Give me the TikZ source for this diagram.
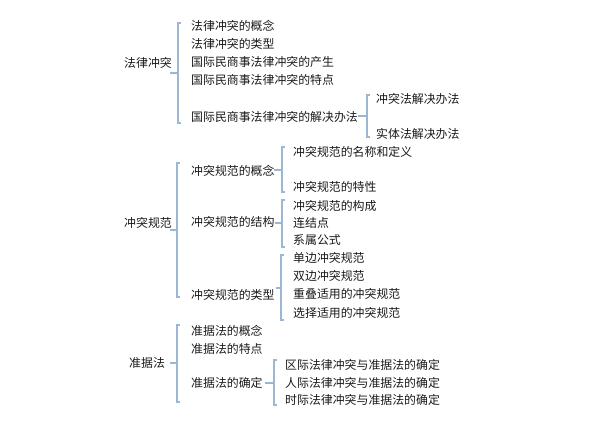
\documentclass[tikz,border=0pt]{standalone}
\usepackage{fontspec}
\newfontfamily\cjk{Noto Sans CJK SC}
\definecolor{brc}{RGB}{155,183,212}
\definecolor{txc}{RGB}{25,25,25}
\tikzset{
  lbl/.style={anchor=west,inner sep=0pt,font=\cjk\fontsize{11.9}{12}\selectfont,text=txc},
  br/.style={draw=brc,line width=1.2pt},
}
\begin{document}
\begin{tikzpicture}[x=1pt,y=-1pt]
\useasboundingbox (0,0) rectangle (593,429);
% section 1
\node[lbl] (r1) at (124,63) {法律冲突};
\node[lbl] (a1) at (191,26) {法律冲突的概念};
\node[lbl] (a2) at (191,44) {法律冲突的类型};
\node[lbl] (a3) at (191,62) {国际民商事法律冲突的产生};
\node[lbl] (a4) at (191,80) {国际民商事法律冲突的特点};
\node[lbl] (a5) at (191,117) {国际民商事法律冲突的解决办法};
\node[lbl] (a51) at (376,99) {冲突法解决办法};
\node[lbl] (a52) at (376,134) {实体法解决办法};
\coordinate (B1) at (178,73);
\draw[br] (181,23) -- (178,23) -- (178,123) -- (181,123);
\draw[br] (B1) -- (170,73);
\coordinate (B1a) at (367,116);
\draw[br] (370,95) -- (367,95) -- (367,137) -- (370,137);
\draw[br] (B1a) -- (358,116);
% section 2
\node[lbl] (r2) at (124,223) {冲突规范};
\node[lbl] (b1) at (191,171) {冲突规范的概念};
\node[lbl] (b2) at (191,222) {冲突规范的结构};
\node[lbl] (b3) at (191,295) {冲突规范的类型};
\node[lbl] (b11) at (293,152) {冲突规范的名称和定义};
\node[lbl] (b12) at (293,187) {冲突规范的特性};
\node[lbl] (b21) at (293,206) {冲突规范的构成};
\node[lbl] (b22) at (293,223) {连结点};
\node[lbl] (b23) at (293,240) {系属公式};
\node[lbl] (b31) at (293,258) {单边冲突规范};
\node[lbl] (b32) at (293,276) {双边冲突规范};
\node[lbl] (b33) at (293,294) {重叠适用的冲突规范};
\node[lbl] (b34) at (293,313) {选择适用的冲突规范};
\coordinate (B2) at (177,230);
\draw[br] (180,163) -- (177,163) -- (177,297) -- (180,297);
\draw[br] (B2) -- (170,230);
\coordinate (B2a) at (282,170);
\draw[br] (285,147) -- (282,147) -- (282,192) -- (285,192);
\draw[br] (B2a) -- (274,170);
\coordinate (B2b) at (282,223);
\draw[br] (285,200) -- (282,200) -- (282,247) -- (285,247);
\draw[br] (B2b) -- (275,223);
\coordinate (B2c) at (281,288);
\draw[br] (284,255) -- (281,255) -- (281,320) -- (284,320);
\draw[br] (B2c) -- (276,288);
% section 3
\node[lbl] (r3) at (129,363) {准据法};
\node[lbl] (c1) at (191,331) {准据法的概念};
\node[lbl] (c2) at (191,349) {准据法的特点};
\node[lbl] (c3) at (191,383) {准据法的确定};
\node[lbl] (c31) at (285,365) {区际法律冲突与准据法的确定};
\node[lbl] (c32) at (285,383) {人际法律冲突与准据法的确定};
\node[lbl] (c33) at (285,400) {时际法律冲突与准据法的确定};
\coordinate (B3) at (177,363);
\draw[br] (180,325) -- (177,325) -- (177,402) -- (180,402);
\draw[br] (B3) -- (170,363);
\coordinate (B3a) at (274,383);
\draw[br] (277,360) -- (274,360) -- (274,405) -- (277,405);
\draw[br] (B3a) -- (265,383);
\end{tikzpicture}
\end{document}
